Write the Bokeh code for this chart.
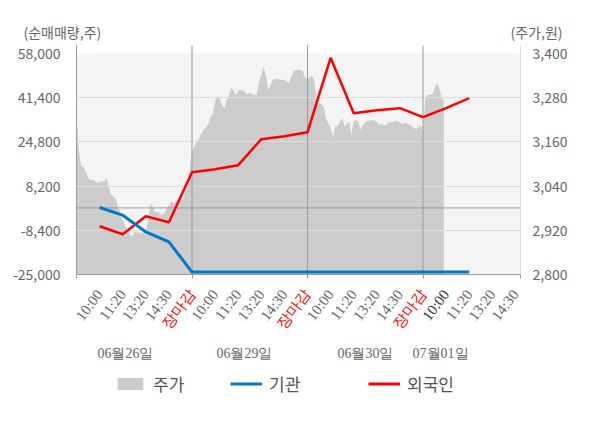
import numpy as np
from bokeh.plotting import figure
from bokeh.layouts import column
from bokeh.models import (Range1d, LinearAxis, FixedTicker, Span, BoxAnnotation,
                          ColumnDataSource, LabelSet, Label, Legend, LegendItem,
                          NumeralTickFormatter)
from bokeh.core.properties import field
from bokeh.embed import file_html
from bokeh.resources import INLINE

FONT = "Noto Sans CJK KR"

# ---------------- data ----------------
day_labels = ["06월26일", "06월29일", "06월30일", "07월01일"]
tick_labels = ["10:00", "11:20", "13:20", "14:30", "장마감"] * 3 + ["10:00", "11:20", "13:20", "14:30"]
tick_colors = (["#666666"] * 4 + ["#ff0000"]) * 3 + ["#333333"] + ["#666666"] * 3

left_ticks = [-25000, -8400, 8200, 24800, 41400, 58000]
right_ticks = [2800, 2920, 3040, 3160, 3280, 3400]

# 주가 (price samples; each trading day spans 5 tick units)
price_d1 = [3237, 3137, 3094, 3092, 3079, 3065, 3056, 3058, 3054, 3049,
            3052, 3054, 3052, 3063, 3036, 3018, 3011, 3005, 2984, 2966,
            2947, 2933, 2918, 2910, 2902, 2916, 2915, 2915, 2911, 2916,
            2920, 2943, 2993, 2985, 2969, 2971, 2967, 2962, 2966, 2978,
            2987, 2998, 2994, 2997, 3005, 3011, 3002, 3027, 3038, 3083,
            3133]
price_d2 = [3148, 3160, 3169, 3182, 3193, 3199, 3207, 3228, 3237, 3269,
            3285, 3278, 3260, 3251, 3276, 3285, 3307, 3300, 3287, 3300,
            3300, 3300, 3296, 3289, 3294, 3290, 3287, 3288, 3323, 3341,
            3364, 3341, 3300, 3314, 3328, 3332, 3331, 3330, 3328, 3328,
            3323, 3321, 3339, 3352, 3355, 3355, 3355, 3352, 3334, 3332]
price_d3 = [3337, 3339, 3325, 3264, 3264, 3264, 3255, 3223, 3210, 3199,
            3174, 3202, 3203, 3214, 3225, 3203, 3207, 3217, 3180, 3216,
            3219, 3216, 3193, 3205, 3213, 3217, 3219, 3219, 3218, 3214,
            3206, 3209, 3206, 3205, 3213, 3214, 3213, 3218, 3216, 3213,
            3208, 3212, 3210, 3207, 3204, 3199, 3194, 3201, 3205, 3189]
price_d4 = [3278, 3287, 3288, 3287, 3307, 3318, 3307, 3282, 3273]

# 기관 / 외국인 net volume at each time tick
inst = [150, -2729, -9000, -12756, -24100, -24100, -24100, -24100, -24100,
        -24100, -24100, -24100, -24100, -24100, -24100, -24100, -24100]
foreign = [-6860, -9865, -3104, -5358, 13420, 14547, 16049, 25814, 26941,
           28443, 56400, 35579, 36706, 37457, 34077, 37457, 41213]

# ---------------- positions ----------------
price_x = np.concatenate([np.linspace(0, 5, len(price_d1)),
                          np.linspace(5.1, 10, len(price_d2)),
                          np.linspace(10.1, 15, len(price_d3)),
                          15.1 + 0.1 * np.arange(len(price_d4))])
price = np.array(price_d1 + price_d2 + price_d3 + price_d4, dtype=float)
line_x = np.arange(1, len(foreign) + 1)
tick_x = np.arange(1, len(tick_labels) + 1)
day_bounds = [5, 10, 15]
date_label_x = [2.12, 7.27, 12.51, 15.76]

W = 600
BL, BR = 76, 80            # left / right borders of main frame
TOP_H, MAIN_H, BOT_H = 42, 242, 144
XMAX = 19.22
k = (W - BL - BR) / XMAX   # px per x unit

common = dict(output_backend="svg", toolbar_location=None, outline_line_color=None,
              background_fill_color="white", border_fill_color="white", frame_align=False)

price_src = ColumnDataSource(dict(x=price_x, y2=price))
red_src = ColumnDataSource(dict(x=line_x, y=foreign))
blue_src = ColumnDataSource(dict(x=line_x, y=inst))

# ---------------- top strip (axis titles) ----------------
top = figure(width=W, height=TOP_H, x_range=Range1d(0, W), y_range=Range1d(-TOP_H, 0),
             x_axis_type=None, y_axis_type=None, min_border=0, **common)
top.add_layout(Label(x=23, y=-TOP_H + 0.5, text="(순매매량,주)", text_align="left",
                     text_baseline="bottom", text_color="#666666",
                     text_font=FONT, text_font_size="14px"))
top.add_layout(Label(x=562, y=-TOP_H + 0.5, text="(주가,원)", text_align="right",
                     text_baseline="bottom", text_color="#666666",
                     text_font=FONT, text_font_size="14px"))

# ---------------- main chart ----------------
p = figure(width=W, height=MAIN_H, x_range=Range1d(0, XMAX),
           y_range=Range1d(-25000, 61005),
           min_border_left=BL, min_border_right=BR, min_border_top=3, min_border_bottom=10,
           **common)
p.extra_y_ranges = {"price": Range1d(2800, 3421.7)}

p.add_layout(BoxAnnotation(top=58000, fill_color="#f4f4f4", fill_alpha=1, line_color=None, level="underlay"))

p.xgrid.visible = False
p.ygrid.ticker = FixedTicker(ticks=[-8400, 8200, 24800, 41400])
p.ygrid.grid_line_color = "#dddddd"
p.ygrid.level = "guide"

ya = p.yaxis[0]
ya.ticker = FixedTicker(ticks=left_ticks)
ya.formatter = NumeralTickFormatter(format="0,0")
ya.axis_line_color = "#999999"
ya.major_tick_line_color = None
ya.minor_tick_line_color = None
ya.major_label_standoff = 10
ya.major_label_text_font = FONT
ya.major_label_text_font_size = "14px"
ya.major_label_text_color = "#666666"

ra = LinearAxis(y_range_name="price", ticker=FixedTicker(ticks=right_ticks),
                formatter=NumeralTickFormatter(format="0,0"))
ra.axis_line_color = "#dddddd"
ra.major_tick_line_color = None
ra.minor_tick_line_color = None
ra.major_label_standoff = 6
ra.major_label_text_font = FONT
ra.major_label_text_font_size = "14px"
ra.major_label_text_color = "#666666"
p.add_layout(ra, "right")

xticks = [0] + day_bounds + [XMAX]
xa = p.xaxis[0]
xa.ticker = FixedTicker(ticks=xticks)
xa.major_label_overrides = {t: "" for t in xticks}
xa.major_label_standoff = 0
xa.axis_line_color = "#999999"
xa.major_tick_line_color = "#999999"
xa.major_tick_out = 4
xa.major_tick_in = 0
xa.minor_tick_line_color = None

area = p.varea(x="x", y1=2800, y2="y2", source=price_src, fill_color="#cccccc", y_range_name="price")

for b in day_bounds:
    p.add_layout(Span(location=b, dimension="height", line_color="#999999", line_width=1, level="guide"))
p.add_layout(Span(location=0, dimension="width", line_color="#999999", line_width=1, level="guide"))

red = p.line("x", "y", source=red_src, line_color="#ff0000", line_width=2.5, level="annotation")
blue = p.line("x", "y", source=blue_src, line_color="#0079c8", line_width=3, level="annotation")

# ---------------- bottom strip (tick labels, dates, legend) ----------------
bot = figure(width=W, height=BOT_H, x_range=Range1d(-BL / k, (W - BL) / k),
             y_range=Range1d(-BOT_H, 0), x_axis_type=None, y_axis_type=None,
             min_border=0, **common)

tsrc = ColumnDataSource(dict(x=tick_x, y=[-7] * len(tick_x), text=tick_labels, color=tick_colors))
bot.add_layout(LabelSet(x="x", y="y", text="text", source=tsrc, text_color=field("color"),
                        angle=53, angle_units="deg", text_align="right", text_baseline="middle",
                        text_font=FONT, text_font_size="15px"))

dsrc = ColumnDataSource(dict(x=date_label_x, y=[-69] * 4, text=day_labels))
bot.add_layout(LabelSet(x="x", y="y", text="text", source=dsrc, text_color="#666666",
                        text_align="center", text_baseline="middle",
                        text_font=FONT, text_font_size="14px"))

# legend proxies (same data, hidden) so the legend can live below the chart
l_area = bot.varea(x="x", y1=2800, y2="y2", source=price_src, fill_color="#cccccc", visible=False)
l_blue = bot.line("x", "y", source=blue_src, line_color="#0079c8", line_width=3, visible=False)
l_red = bot.line("x", "y", source=red_src, line_color="#ff0000", line_width=3, visible=False)

def mk_legend(label, r, xloc):
    lg = Legend(items=[LegendItem(label=label, renderers=[r])], location=(xloc, 32),
                orientation="horizontal", glyph_width=32, glyph_height=15, label_standoff=7,
                label_text_font=FONT, label_text_font_size="17px", label_text_color="#555555",
                padding=0, margin=0, spacing=0, border_line_color=None, background_fill_alpha=0)
    bot.add_layout(lg, "center")

mk_legend("주가", l_area, 114)
mk_legend("기관", l_blue, 230)
mk_legend("외국인", l_red, 368)

layout = column(top, p, bot, spacing=0)
open("out.html", "w").write(file_html(layout, INLINE))
